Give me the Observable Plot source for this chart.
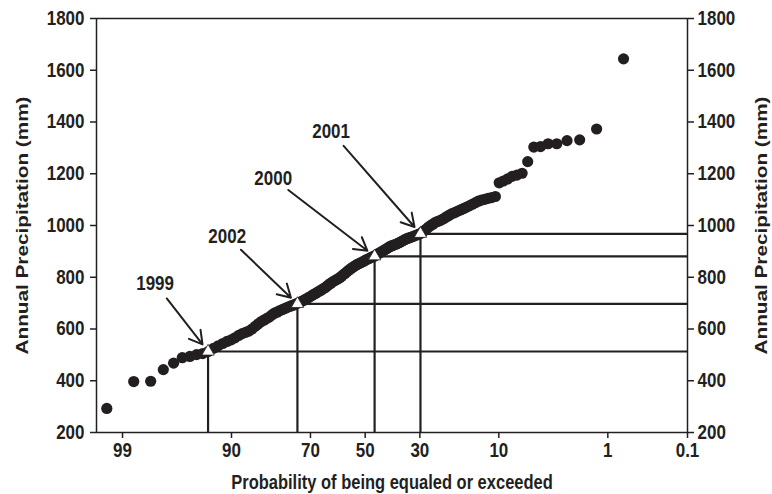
<!DOCTYPE html>
<html><head><meta charset="utf-8">
<script src="https://cdn.jsdelivr.net/npm/d3@7"></script>
<script src="https://cdn.jsdelivr.net/npm/@observablehq/plot@0.6"></script>
<style>body{margin:0;background:#fff}</style>
</head><body><div id="chart"></div>
<script>
// Annual precipitation (mm), sorted ascending (150 years)
const precipSorted = [
  293, 397, 398, 443, 468, 489, 494, 501, 505, 513,
  525, 535, 544, 552, 558, 566, 575, 582, 587, 592,
  600, 610, 619, 628, 634, 640, 646, 654, 661, 665,
  670, 674, 678, 682, 686, 689, 692, 696, 699, 703,
  707, 711, 716, 720, 724, 729, 734, 738, 743, 747,
  751, 756, 760, 766, 772, 777, 782, 786, 790, 794,
  798, 804, 810, 815, 821, 827, 832, 837, 841, 846,
  850, 853, 856, 860, 863, 867, 870, 873, 877, 880,
  882, 887, 891, 895, 899, 903, 907, 911, 916, 920,
  922, 925, 927, 931, 934, 938, 942, 946, 949, 952,
  954, 957, 960, 963, 966, 969, 975, 981, 987, 994,
  1000, 1005, 1011, 1015, 1018, 1022, 1027, 1033, 1038, 1044,
  1048, 1052, 1057, 1061, 1066, 1071, 1076, 1082, 1088, 1094,
  1098, 1101, 1105, 1108, 1112, 1165, 1172, 1180, 1190, 1195,
  1202, 1247, 1303, 1305, 1316, 1316, 1328, 1331, 1373, 1644
];
// highlighted years
const yearLabels = ["1999", "2002", "2000", "2001"];
const yearValues = [513, 697, 881, 968];
const yearExceed = [93.4, 74.2, 46.4, 29.8];      // % probability of being equaled or exceeded
const labelExceed = [97.8, 90.7, 81.1, 62.8];     // annotation anchor (probability %)
const labelValue = [776, 957, 1182, 1363];        // annotation anchor (mm)
// axes
const xTickProbs = [99, 90, 70, 50, 30, 10, 1, 0.1];
const xTickLabels = ["99", "90", "70", "50", "30", "10", "1", "0.1"];
const xDomainProbs = [99.5, 0.1];
const yTicks = [200, 400, 600, 800, 1000, 1200, 1400, 1600, 1800];
const yDomain = [200, 1800];
const yTitle = "Annual Precipitation (mm)";
const xTitle = "Probability of being equaled or exceeded";

// inverse standard normal CDF (Acklam)
function probit(p) {
  const a = [-3.969683028665376e+01, 2.209460984245205e+02, -2.759285104469687e+02, 1.383577518672690e+02, -3.066479806614716e+01, 2.506628277459239e+00];
  const b = [-5.447609879822406e+01, 1.615858368580409e+02, -1.556989798598866e+02, 6.680131188771972e+01, -1.328068155288572e+01];
  const c = [-7.784894002430293e-03, -3.223964580411365e-01, -2.400758277161838e+00, -2.549732539343734e+00, 4.374664141464968e+00, 2.938163982698783e+00];
  const d = [7.784695709041462e-03, 3.224671290700398e-01, 2.445134137142996e+00, 3.754408661907416e+00];
  const pl = 0.02425, ph = 1 - pl;
  let q, r;
  if (p < pl) { q = Math.sqrt(-2 * Math.log(p)); return (((((c[0]*q+c[1])*q+c[2])*q+c[3])*q+c[4])*q+c[5]) / ((((d[0]*q+d[1])*q+d[2])*q+d[3])*q+1); }
  if (p > ph) { q = Math.sqrt(-2 * Math.log(1 - p)); return -(((((c[0]*q+c[1])*q+c[2])*q+c[3])*q+c[4])*q+c[5]) / ((((d[0]*q+d[1])*q+d[2])*q+d[3])*q+1); }
  q = p - 0.5; r = q * q;
  return (((((a[0]*r+a[1])*r+a[2])*r+a[3])*r+a[4])*r+a[5])*q / (((((b[0]*r+b[1])*r+b[2])*r+b[3])*r+b[4])*r+1);
}
const zOf = exceedPct => probit(1 - exceedPct / 100);

const n = precipSorted.length;
const points = precipSorted.map((v, i) => ({z: probit((i + 1) / (n + 1)), v}));
const years = yearLabels.map((y, i) => ({
  year: y, v: yearValues[i], z: zOf(yearExceed[i]),
  lz: zOf(labelExceed[i]), lv: labelValue[i]
}));
const xTickZ = xTickProbs.map(zOf);
const tickLabelMap = new Map(xTickZ.map((z, i) => [z, xTickLabels[i]]));
const xDomain = xDomainProbs.map(zOf);
const ink = "#231f20";

const chart = Plot.plot({
  width: 772,
  height: 494,
  marginLeft: 96,
  marginRight: 85,
  marginTop: 18,
  marginBottom: 62,
  style: {fontFamily: '"Liberation Sans", Arial, sans-serif', fontWeight: "bold", fontSize: "17px", color: ink, background: "#fff"},
  x: {domain: xDomain},
  y: {domain: yDomain},
  marks: [
    Plot.ruleX(years, {x: "z", y1: yDomain[0], y2: "v", stroke: ink, strokeWidth: 2.2}),
    Plot.ruleY(years, {y: "v", x1: "z", x2: xDomain[1], stroke: ink, strokeWidth: 2.2}),
    Plot.dot(points, {x: "z", y: "v", r: 5.6, fill: ink, stroke: "none"}),
    Plot.dot(years, {x: "z", y: "v", symbol: "triangle", r: 4.6, fill: "white", stroke: ink, strokeWidth: 0.8}),
    Plot.arrow(years, {x1: "lz", y1: "lv", x2: "z", y2: "v", insetStart: 19, insetEnd: 9, headLength: 11, stroke: ink, strokeWidth: 2}),
    Plot.text(years, {x: "lz", y: "lv", text: "year", fontSize: 17, fontWeight: "bold", fill: ink}),
    Plot.frame({stroke: ink, strokeWidth: 1.5}),
    Plot.axisY({anchor: "left", ticks: yTicks, tickFormat: d => String(d), tickSize: 6, tickPadding: 6, label: null, stroke: ink, strokeWidth: 1.5, fill: ink}),
    Plot.axisY({anchor: "right", ticks: yTicks, tickFormat: d => String(d), tickSize: 6, tickPadding: 4, label: null, stroke: ink, strokeWidth: 1.5, fill: ink}),
    Plot.axisX({anchor: "bottom", ticks: xTickZ, tickFormat: z => tickLabelMap.get(z), tickSize: 6, tickPadding: 5, label: null, stroke: ink, strokeWidth: 1.5, fill: ink}),
    Plot.text([yTitle], {text: d => d, frameAnchor: "left", dx: -74, rotate: -90, fontSize: 17, fontWeight: "bold", fill: ink}),
    Plot.text([yTitle], {text: d => d, frameAnchor: "right", dx: 74, rotate: -90, fontSize: 17, fontWeight: "bold", fill: ink}),
    Plot.text([xTitle], {text: d => d, frameAnchor: "bottom", dy: 55, fontSize: 16.5, fontWeight: "bold", fill: ink})
  ]
});
document.getElementById("chart").appendChild(chart);
// the reference's lettering is slightly taller than wide: stretch texts a little
const titleLen = 258;
chart.querySelectorAll("text").forEach(t => {
  if (t.textContent === yTitle) {
    t.setAttribute("text-anchor", "start");
    t.setAttribute("x", -titleLen / 2);
    t.setAttribute("textLength", titleLen);
    t.setAttribute("lengthAdjust", "spacingAndGlyphs");
  } else {
    const bb = t.getBBox();
    const cx = bb.x + bb.width / 2, cy = bb.y + bb.height / 2;
    const prev = t.getAttribute("transform") || "";
    t.setAttribute("transform", `${prev} translate(${cx},${cy}) scale(1,1.18) translate(${-cx},${-cy})`.trim());
  }
});
</script>
</body></html>
